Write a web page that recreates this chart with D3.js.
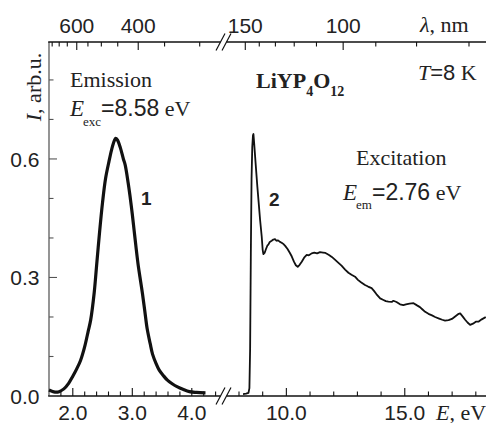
<!DOCTYPE html>
<html><head><meta charset="utf-8">
<script src="https://cdn.jsdelivr.net/npm/d3@7"></script>
<style>
html,body{margin:0;padding:0;background:#fff;}
svg{display:block;}
.sans{font-family:"Liberation Sans",Arial,sans-serif;}
.serif{font-family:"Liberation Serif","Times New Roman",serif;}
</style></head>
<body><svg id="c" width="486" height="423"></svg>
<script>
// ---- data ----
const emE = [1.60,1.65,1.70,1.77,1.85,1.93,2.00,2.07,2.13,2.20,2.26,2.30,2.36,2.40,2.45,2.50,2.55,2.61,2.66,2.70,2.72,2.75,2.80,2.85,2.88,2.93,2.96,3.00,3.03,3.06,3.10,3.14,3.17,3.21,3.25,3.30,3.34,3.40,3.45,3.52,3.59,3.67,3.76,3.85,3.96,4.08,4.23];
const emI = [0.015,0.012,0.010,0.011,0.018,0.032,0.050,0.070,0.090,0.125,0.165,0.192,0.262,0.330,0.415,0.490,0.550,0.595,0.628,0.647,0.652,0.648,0.628,0.600,0.585,0.540,0.508,0.460,0.420,0.380,0.330,0.290,0.260,0.215,0.170,0.133,0.106,0.082,0.066,0.052,0.040,0.031,0.023,0.017,0.011,0.009,0.008];
const exE = [8.17,8.30,8.40,8.44,8.47,8.50,8.53,8.56,8.59,8.61,8.64,8.70,8.775,8.83,8.89,8.96,9.00,9.03,9.08,9.14,9.20,9.24,9.30,9.38,9.45,9.52,9.58,9.65,9.73,9.80,9.87,9.95,10.05,10.15,10.23,10.32,10.40,10.48,10.56,10.65,10.75,10.86,10.95,11.07,11.18,11.30,11.42,11.55,11.65,11.71,11.80,11.92,12.05,12.20,12.33,12.48,12.62,12.75,12.90,13.02,13.15,13.32,13.45,13.60,13.70,13.80,13.96,14.10,14.20,14.31,14.45,14.52,14.65,14.80,14.94,15.05,15.20,15.37,15.50,15.64,15.75,15.86,16.00,16.15,16.28,16.45,16.58,16.70,16.85,16.99,17.10,17.25,17.34,17.45,17.55,17.65,17.76,17.88,18.00,18.11,18.25,18.42];
const exI = [0.005,0.006,0.008,0.020,0.120,0.360,0.550,0.630,0.660,0.663,0.640,0.590,0.530,0.490,0.446,0.403,0.370,0.359,0.362,0.372,0.381,0.383,0.390,0.393,0.396,0.397,0.393,0.394,0.390,0.388,0.385,0.380,0.372,0.362,0.353,0.340,0.331,0.327,0.332,0.340,0.350,0.357,0.356,0.361,0.363,0.361,0.364,0.363,0.362,0.360,0.357,0.352,0.345,0.337,0.330,0.320,0.312,0.307,0.302,0.294,0.288,0.281,0.277,0.273,0.266,0.258,0.247,0.243,0.240,0.239,0.238,0.241,0.238,0.232,0.230,0.232,0.234,0.235,0.230,0.225,0.219,0.213,0.208,0.204,0.200,0.196,0.193,0.191,0.192,0.195,0.200,0.207,0.209,0.201,0.193,0.186,0.180,0.183,0.188,0.188,0.194,0.200];

const yTicks = [0,0.1,0.2,0.3,0.4,0.5,0.6,0.7,0.8];
const yLabels = [0.0,0.3,0.6];
const eTicksL = [1.8,2.0,2.2,2.4,2.6,2.8,3.0,3.2,3.4,3.6,3.8,4.0,4.2,4.4];
const eLabelsL = [2.0,3.0,4.0];
const eTicksR = [8,9,10,11,12,13,14,15,16,17,18];
const eLabelsR = [10.0,15.0];
const lamTicksL = [750,700,650,600,550,500,450,400,350,300];
const lamLabelsL = [600,400];
const lamTicksR = [150,140,130,120,110,100,90,80,70];
const lamLabelsR = [150,100];
const HC = 1239.84;

// ---- scales ----
const svg = d3.select("#c");
const yS = d3.scaleLinear().domain([0,0.896]).range([396,42]);
const xL = d3.scaleLinear().domain([1.6,4.4]).range([49,215.6]);
const xR = d3.scaleLinear().domain([7.62,18.43]).range([230,486]);
const yB = yS(0), yT = yS(0.896);

const ink = "#111";
// axes lines
svg.append("line").attr("x1",49).attr("x2",49).attr("y1",yT).attr("y2",yB).attr("stroke","#7a7a7a").attr("stroke-width",1.6);
function hseg(x1,x2,y){svg.append("line").attr("x1",x1).attr("x2",x2).attr("y1",y).attr("y2",y).attr("stroke",ink).attr("stroke-width",1.4);}
hseg(48.2,220.5,yB); hseg(226.5,486,yB);
hseg(48.2,220.5,yT); hseg(226.5,486,yT);
function slashes(y){
  [220.5,226.5].forEach(cx=>{
    svg.append("line").attr("x1",cx-4.5).attr("y1",y+8.5).attr("x2",cx+4.5).attr("y2",y-8.5).attr("stroke",ink).attr("stroke-width",1.2);
  });
}
slashes(yB); slashes(yT);

// y ticks
yTicks.forEach(v=>{
  const major = yLabels.some(l=>Math.abs(l-v)<1e-6);
  svg.append("line").attr("x1",49).attr("x2",49+(major?8:4.5)).attr("y1",yS(v)).attr("y2",yS(v)).attr("stroke","#555").attr("stroke-width",1.1);
});
yLabels.forEach(v=>{
  svg.append("text").attr("class","sans").attr("x",39.5).attr("y",yS(v)).attr("dy","0.36em")
    .attr("text-anchor","end").attr("font-size",21).attr("fill","#222").text(v.toFixed(1));
});
// bottom ticks
function bTicks(scale, ticks, labels){
  ticks.forEach(v=>{
    const major = labels.some(l=>Math.abs(l-v)<1e-6);
    svg.append("line").attr("x1",scale(v)).attr("x2",scale(v)).attr("y1",yB).attr("y2",yB-(major?8:4.5)).attr("stroke",ink).attr("stroke-width",1.1);
  });
  labels.forEach(v=>{
    svg.append("text").attr("class","sans").attr("x",scale(v)).attr("y",419.5).attr("text-anchor","middle")
      .attr("font-size",21).attr("fill","#222").text(v.toFixed(1));
  });
}
bTicks(xL,eTicksL,eLabelsL); bTicks(xR,eTicksR,eLabelsR);
// top ticks (wavelength)
function tTicks(scale, ticks, labels){
  ticks.forEach(l=>{
    const major = labels.indexOf(l)>=0;
    const x = scale(HC/l);
    svg.append("line").attr("x1",x).attr("x2",x).attr("y1",yT).attr("y2",yT+(major?8:4.5)).attr("stroke",ink).attr("stroke-width",1.1);
  });
  labels.forEach(l=>{
    svg.append("text").attr("class","sans").attr("x",scale(HC/l)).attr("y",32.5).attr("text-anchor","middle")
      .attr("font-size",21).attr("fill","#222").text(l);
  });
}
tTicks(xL,lamTicksL,lamLabelsL); tTicks(xR,lamTicksR,lamLabelsR);

// curves
const lineL = d3.line().x((d,i)=>xL(emE[i])).y((d,i)=>yS(emI[i])).curve(d3.curveCatmullRom.alpha(0.5));
svg.append("path").datum(emE).attr("d",lineL).attr("fill","none").attr("stroke",ink).attr("stroke-width",3.2).attr("stroke-linejoin","round");
const lineR = d3.line().x((d,i)=>xR(exE[i])).y((d,i)=>yS(exI[i])).curve(d3.curveLinear);
svg.append("path").datum(exE).attr("d",lineR).attr("fill","none").attr("stroke",ink).attr("stroke-width",1.8).attr("stroke-linejoin","round");

// texts
function txt(x,y,parts,opts={}){
  const t = svg.append("text").attr("x",x).attr("y",y).attr("fill","#222");
  if(opts.anchor) t.attr("text-anchor",opts.anchor);
  if(opts.transform) t.attr("transform",opts.transform);
  parts.forEach(p=>{
    const s = t.append("tspan").attr("font-family",p.sans?'"Liberation Sans",Arial,sans-serif':'"Liberation Serif","Times New Roman",serif')
      .attr("font-size",p.size||22).text(p.t);
    if(p.it) s.attr("font-style","italic");
    if(p.b) s.attr("font-weight","bold");
    if(p.dy!==undefined) s.attr("dy",p.dy);
    if(p.dx!==undefined) s.attr("dx",p.dx);
  });
  return t;
}
txt(70,87,[{t:"Emission"}]);
txt(70,116,[{t:"E",it:true,size:23},{t:"exc",size:13,dy:10,dx:-1},{t:"=8.58",sans:true,dy:-10,size:23},{t:" eV"}]);
txt(256,88,[{t:"LiYP",b:true,size:22},{t:"4",b:true,size:14,dy:8},{t:"O",b:true,size:22,dy:-8},{t:"12",b:true,size:14,dy:8}]);
txt(418,80,[{t:"T",it:true},{t:"=8",sans:true},{t:" K"}]);
txt(356,165,[{t:"Excitation"}]);
txt(343,200,[{t:"E",it:true,size:23},{t:"em",size:13,dy:9,dx:-1},{t:"=2.76",sans:true,dy:-9,size:23},{t:" eV"}]);
txt(141,205,[{t:"1",sans:true,b:true,size:19}]);
txt(269,206,[{t:"2",sans:true,b:true,size:19}]);
txt(420,32,[{t:"λ",it:true},{t:", nm"}]);
txt(436,419.5,[{t:"E",it:true},{t:", eV"}]);
txt(0,0,[{t:"I",it:true},{t:", arb.u."}],{anchor:"middle",transform:"translate(41,87) rotate(-90)"});
</script></body></html>
